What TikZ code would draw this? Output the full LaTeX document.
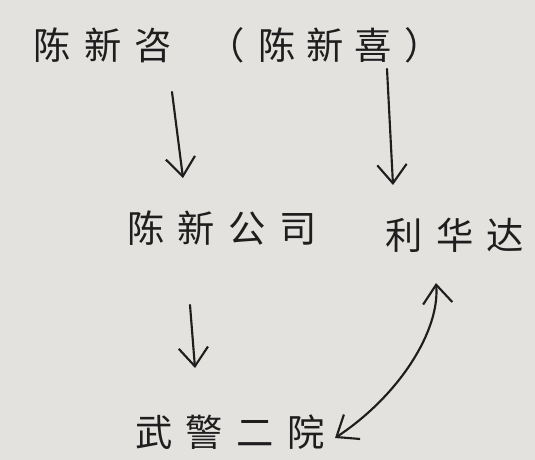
\documentclass[tikz,border=0pt]{standalone}
\usepackage{fontspec}
\newfontfamily\cjk{Noto Sans CJK SC}
\usetikzlibrary{arrows.meta,calc}
\newcommand\gp{\hspace{10pt}}
\definecolor{paper}{RGB}{228,226,223}
\definecolor{ink}{RGB}{30,30,30}
\tikzset{
  lbl/.style={inner sep=0pt, font=\cjk\fontsize{28}{30}\selectfont, text=ink},
  arr/.style={draw=ink, line width=1.6pt, line cap=round, line join=round,
    -{Straight Barb[length=14pt,width=22pt,line width=1.6pt]}},
  darr/.style={draw=ink, line width=1.6pt, line cap=round, line join=round,
    {Straight Barb[length=14pt,width=22pt,line width=1.6pt]}-{Straight Barb[length=14pt,width=22pt,line width=1.6pt]}}
}
\begin{document}
\begin{tikzpicture}[x=0.75pt,y=-0.75pt]
\fill[paper] (0,0) rectangle (535,460);
\useasboundingbox (0,0) rectangle (535,460);
\node[lbl] (tl) at (103,45) {陈\gp 新\gp 咨};
\node[lbl] (tr) at (325,45) {（\hspace{10pt}陈\hspace{8pt}新\hspace{8pt}喜\hspace{10pt}）};
\node[lbl] (ml) at (222,228) {陈\gp 新\gp 公\gp 司};
\node[lbl] (mr) at (455,235) {利\gp 华\gp 达};
\node[lbl] (bt) at (230,432) {武\gp 警\gp 二\gp 院};
\draw[arr] ($(tl)+(69,47)$) -- ($(ml)+(-39,-50)$);
\draw[arr] ($(tr)+(62,24)$) -- ($(mr)+(-62,-50)$);
\draw[arr] ($(ml)+(-32,77)$) -- ($(bt)+(-35,-64)$);
\draw[darr] ($(bt)+(105,6)$) .. controls (400,395) and (440,330) .. ($(mr)+(-19,48)$);
\end{tikzpicture}
\end{document}
